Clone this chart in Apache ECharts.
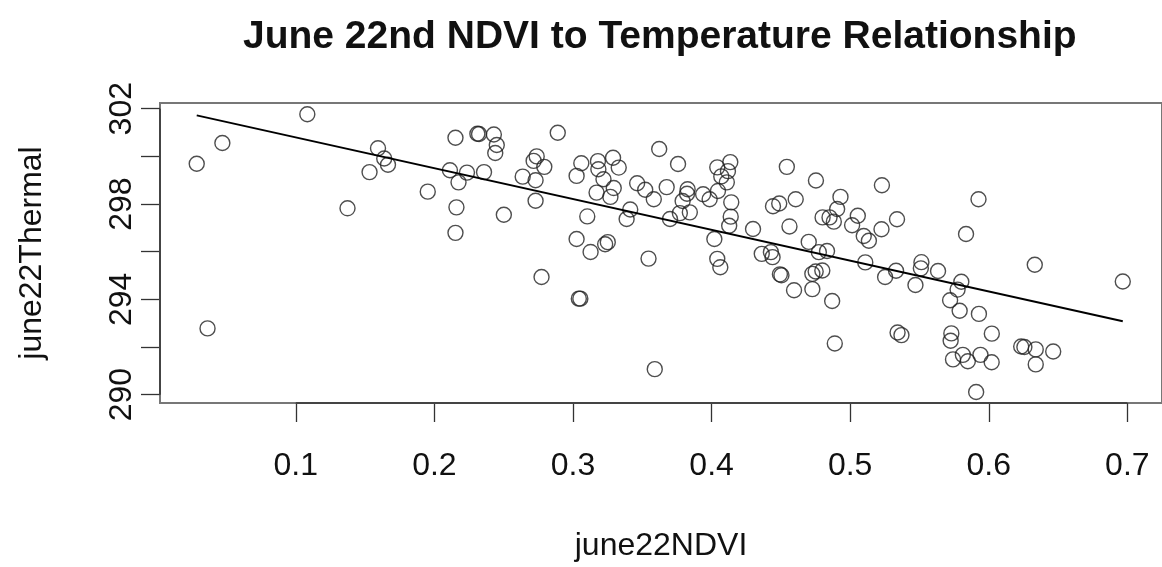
<!DOCTYPE html>
<html>
<head>
<meta charset="utf-8">
<script src="https://cdn.jsdelivr.net/npm/echarts@6/dist/echarts.min.js"></script>
<style>
html,body{margin:0;padding:0;background:#fff;}
#chart{width:1162px;height:567px;}
</style>
</head>
<body>
<div id="chart"></div>
<script>
// NDVI values (x)
const ndvi = [
0.0285,0.0470,0.0363,0.1083,0.1593,0.1638,0.1665,0.1532,0.1373,0.1952,
0.2152,0.2310,0.2322,0.2429,0.2450,0.2439,0.2890,0.2112,0.2235,0.2174,
0.2358,0.2159,0.2152,0.2501,0.2738,0.2716,0.2793,0.2637,0.2730,0.2730,
0.2773,0.3060,0.3026,0.3026,0.3042,0.3053,0.3180,0.3183,0.3289,0.3330,
0.3220,0.3294,0.3170,0.3270,0.3103,0.3127,0.3232,0.3251,0.3622,0.3758,
0.3463,0.3521,0.3583,0.3676,0.3413,0.3387,0.3545,0.3827,0.3823,0.3791,
0.3843,0.3771,0.3700,0.3939,0.3986,0.4041,0.4020,0.4041,0.4063,0.3590,
0.4135,0.4118,0.4070,0.4110,0.4046,0.4142,0.4138,0.4127,0.4543,0.4753,
0.4607,0.4488,0.4443,0.4299,0.4562,0.4362,0.4428,0.4440,0.4493,0.4504,
0.4595,0.4701,0.4727,0.4751,0.4799,0.4774,0.4833,0.4727,0.4801,0.4851,
0.4882,0.4906,0.4930,0.4870,0.4889,0.5014,0.5055,0.5098,0.5135,0.5229,
0.5226,0.5338,0.5109,0.5252,0.5331,0.5514,0.5510,0.5471,0.5634,0.5802,
0.5775,0.5721,0.5790,0.5929,0.5342,0.5370,0.5730,0.5725,0.6022,0.5742,
0.5813,0.5849,0.5940,0.6021,0.5909,0.5926,0.5836,0.6332,0.6967,0.6234,
0.6257,0.6339,0.6465,0.6339
];
// Thermal values (y)
const thermal = [
299.69,300.56,292.78,301.77,300.34,299.91,299.65,299.34,297.82,298.52,
300.78,300.95,300.94,300.92,300.48,300.14,300.99,299.42,299.32,298.91,
299.34,297.86,296.79,297.55,300.00,299.81,299.56,299.15,299.00,298.14,
294.94,299.71,299.18,296.53,294.03,294.03,299.80,299.46,299.94,299.53,
299.04,298.67,298.48,298.30,297.48,295.99,296.31,296.40,300.31,299.68,
298.87,298.60,298.20,298.71,297.77,297.37,295.71,298.62,298.43,298.13,
297.65,297.62,297.37,298.41,298.20,299.54,296.53,295.70,295.35,291.07,
299.76,299.38,299.16,298.91,298.55,298.07,297.47,297.09,299.56,298.99,
298.20,298.02,297.91,296.95,297.06,295.91,295.98,295.77,295.05,295.01,
294.38,296.41,295.07,295.17,295.21,295.98,296.03,294.43,297.44,297.44,
297.26,297.79,298.30,293.93,292.15,297.11,297.51,296.66,296.46,298.79,
296.94,297.36,295.55,294.94,295.20,295.56,295.30,294.60,295.19,294.74,
294.41,293.96,293.52,293.39,292.61,292.50,292.57,292.26,292.56,291.48,
291.67,291.40,291.67,291.36,290.11,298.20,296.74,295.45,294.75,292.02,
292.00,291.90,291.81,291.27
];
// fitted regression line end points
const fitX = [0.0285, 0.6967];
const fitY = [301.72, 293.08];
// ticks and tick labels
const xTicks = [0.1, 0.2, 0.3, 0.4, 0.5, 0.6, 0.7];
const yTicks = [290, 292, 294, 296, 298, 300, 302];
const yTickLabels = [290, 294, 298, 302];

const xMin = 0.002, xMax = 0.725, yMin = 289.65, yMax = 302.24;

const pts = ndvi.map((v, i) => [v, thermal[i]]);
const fit = fitX.map((v, i) => [v, fitY[i]]);
const xAxisSeg = [[xTicks[0], yMin], [xTicks[xTicks.length - 1], yMin]];
const yAxisSeg = [[xMin, yTicks[0]], [xMin, yTicks[yTicks.length - 1]]];

const FONT = '"Liberation Sans", Arial, Helvetica, sans-serif';
const chart = echarts.init(document.getElementById('chart'), null, {renderer: 'canvas'});
chart.setOption({
  animation: false,
  backgroundColor: '#fff',
  title: {
    text: 'June 22nd NDVI to Temperature Relationship',
    left: 238, top: 13,
    textStyle: {fontFamily: FONT, fontWeight: 'bold', fontSize: 39, color: '#111'}
  },
  grid: {
    left: 160, top: 103, width: 1009, height: 302,
    show: true, borderColor: '#777', borderWidth: 2, backgroundColor: 'transparent'
  },
  xAxis: {
    type: 'value', min: xMin, max: xMax,
    name: 'june22NDVI', nameLocation: 'middle', nameGap: 127,
    nameTextStyle: {fontFamily: FONT, fontSize: 32, color: '#111'},
    axisLine: {show: false},
    splitLine: {show: false},
    axisTick: {show: true, inside: false, length: 19, customValues: xTicks, lineStyle: {color: '#333', width: 1.3}},
    axisLabel: {show: true, customValues: xTicks, margin: 47, fontFamily: FONT, fontSize: 32, color: '#111',
      hideOverlap: false, formatter: v => String(v)}
  },
  yAxis: {
    type: 'value', min: yMin, max: yMax,
    name: 'june22Thermal', nameLocation: 'middle', nameGap: 112, nameRotate: 90,
    nameTextStyle: {fontFamily: FONT, fontSize: 32, color: '#111'},
    axisLine: {show: false},
    splitLine: {show: false},
    axisTick: {show: true, inside: false, length: 19, customValues: yTicks, lineStyle: {color: '#333', width: 1.3}},
    axisLabel: {show: true, customValues: yTickLabels, rotate: 90, margin: 22, fontFamily: FONT, fontSize: 32, color: '#111',
      hideOverlap: false, formatter: v => String(v)}
  },
  series: [
    {
      type: 'scatter', data: pts, symbol: 'circle', symbolSize: 15,
      itemStyle: {color: 'rgba(0,0,0,0)', borderColor: '#222', borderWidth: 1.4},
      emphasis: {disabled: true}, z: 3
    },
    {
      type: 'line', data: fit, symbol: 'none', lineStyle: {color: '#000', width: 2},
      emphasis: {disabled: true}, z: 4
    },
    {
      type: 'line', data: xAxisSeg, symbol: 'none', clip: false, lineStyle: {color: '#444', width: 2},
      silent: true, z: 5
    },
    {
      type: 'line', data: yAxisSeg, symbol: 'none', clip: false, lineStyle: {color: '#444', width: 2},
      silent: true, z: 5
    }
  ]
});
</script>
</body>
</html>
